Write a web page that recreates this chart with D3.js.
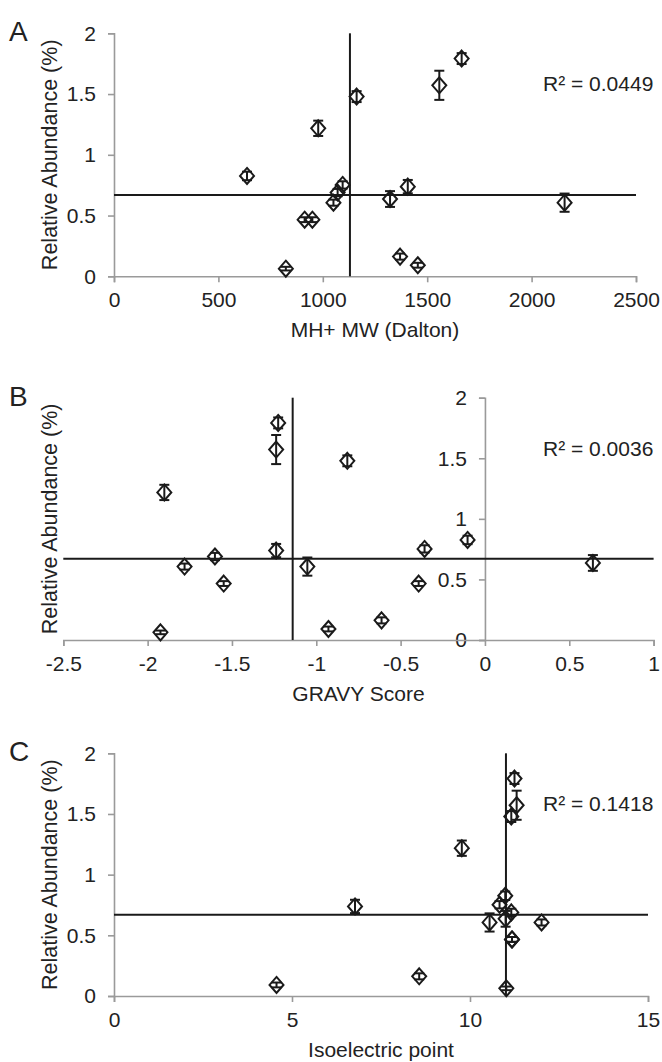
<!DOCTYPE html>
<html>
<head>
<meta charset="utf-8">
<script src="https://cdn.jsdelivr.net/npm/d3@7"></script>
<style>
  body { margin: 0; background: #fff; }
  svg { display: block; font-family: "Liberation Sans", Arial, sans-serif; }
</style>
</head>
<body>
<svg id="chart" width="662" height="1062"></svg>
<script>
// one entry per peptide, same order in every array
const abundance    = [0.826, 0.063, 0.466, 0.466, 1.218, 0.606, 0.689, 0.752, 1.479, 0.636, 0.162, 0.738, 0.091, 1.572, 1.792, 0.606];
const abundanceErr = [0.035, 0.015, 0.02, 0.02, 0.063, 0.025, 0.03, 0.03, 0.045, 0.065, 0.025, 0.055, 0.02, 0.12, 0.045, 0.075];
const mw    = [637, 823, 913, 950, 978, 1051, 1071, 1095, 1162, 1322, 1370, 1407, 1455, 1558, 1665, 2158];
const gravy = [-0.103, -1.924, -1.549, -0.393, -1.901, -1.781, -1.601, -0.358, -0.816, 0.640, -0.613, -1.238, -0.928, -1.238, -1.226, -1.053];
const pI    = [10.99, 11.02, 11.18, 11.18, 9.77, 12.01, 11.16, 10.83, 11.16, 11.0, 8.573, 6.77, 4.565, 11.31, 11.25, 10.55];

// median lines
const refAbundance = 0.67;
const refMw = 1130;
const refGravy = -1.14;
const refPI = 11.01;

const yTicks = [0, 0.5, 1, 1.5, 2];
const mwTicks = [0, 500, 1000, 1500, 2000, 2500];
const gravyTicks = [-2.5, -2, -1.5, -1, -0.5, 0, 0.5, 1];
const pITicks = [0, 5, 10, 15];
const r2Labels = ["R² = 0.0449", "R² = 0.0036", "R² = 0.1418"];

const panels = [
  { letter: "A", xs: mw, xTicks: mwTicks, xRef: refMw, xLabel: "MH+ MW (Dalton)", r2: r2Labels[0],
    xRange: [114, 636], yRange: [276.3, 33.3] },
  { letter: "B", xs: gravy, xTicks: gravyTicks, xRef: refGravy, xLabel: "GRAVY Score", r2: r2Labels[1],
    xRange: [63.3, 653.6], yRange: [640, 397.7] },
  { letter: "C", xs: pI, xTicks: pITicks, xRef: refPI, xLabel: "Isoelectric point", r2: r2Labels[2],
    xRange: [114, 648], yRange: [996, 753.3] }
];

const svg = d3.select("#chart");
const axisColor = "#9a9a9a";
const textColor = "#222";
const fs = 21;

panels.forEach((p) => {
  const x = d3.scaleLinear().domain(d3.extent(p.xTicks)).range(p.xRange);
  const y = d3.scaleLinear().domain([0, 2]).range(p.yRange);
  const g = svg.append("g");

  // y axis sits at x = 0
  const yAx = g.append("g")
    .attr("transform", `translate(${x(0)},0)`)
    .call(d3.axisLeft(y).tickValues(yTicks).tickSize(6).tickPadding(12).tickFormat(d3.format("")));
  const xAx = g.append("g")
    .attr("transform", `translate(0,${y(0)})`)
    .call(d3.axisBottom(x).tickValues(p.xTicks).tickSize(6).tickPadding(10).tickFormat((d) => String(d)));

  [yAx, xAx].forEach((a) => {
    a.select(".domain").attr("stroke", axisColor).attr("stroke-width", 1.6);
    a.selectAll(".tick line").attr("stroke", axisColor).attr("stroke-width", 1.6);
    a.selectAll(".tick text").attr("fill", textColor).style("font-size", fs + "px");
  });

  // median reference lines
  g.append("line")
    .attr("x1", x.range()[0]).attr("x2", x.range()[1])
    .attr("y1", y(refAbundance)).attr("y2", y(refAbundance))
    .attr("stroke", "#1a1a1a").attr("stroke-width", 2);
  g.append("line")
    .attr("x1", x(p.xRef)).attr("x2", x(p.xRef))
    .attr("y1", y(0)).attr("y2", y(2))
    .attr("stroke", "#1a1a1a").attr("stroke-width", 2);

  const pts = abundance.map((v, i) => ({ x: p.xs[i], y: v, e: abundanceErr[i] }));

  // error bars
  const eb = g.append("g").attr("stroke", "#1a1a1a").attr("stroke-width", 2);
  pts.forEach((d) => {
    const cx = x(d.x);
    eb.append("line").attr("x1", cx).attr("x2", cx).attr("y1", y(d.y - d.e)).attr("y2", y(d.y + d.e));
    eb.append("line").attr("x1", cx - 5).attr("x2", cx + 5).attr("y1", y(d.y - d.e)).attr("y2", y(d.y - d.e));
    eb.append("line").attr("x1", cx - 5).attr("x2", cx + 5).attr("y1", y(d.y + d.e)).attr("y2", y(d.y + d.e));
  });

  // open diamond markers
  g.selectAll("path.pt").data(pts).enter().append("path")
    .attr("class", "pt")
    .attr("d", (d) => {
      const cx = x(d.x), cy = y(d.y);
      return `M${cx},${cy - 8}L${cx + 7},${cy}L${cx},${cy + 8}L${cx - 7},${cy}Z`;
    })
    .attr("fill", "none")
    .attr("stroke", "#1a1a1a")
    .attr("stroke-width", 2);

  const yMid = (p.yRange[0] + p.yRange[1]) / 2;
  g.append("text")
    .attr("transform", `translate(57,${yMid}) rotate(-90)`)
    .attr("text-anchor", "middle")
    .attr("fill", textColor)
    .style("font-size", "21.5px")
    .text("Relative Abundance (%)");

  g.append("text")
    .attr("x", (p.xRange[0] + p.xRange[1]) / 2)
    .attr("y", p.yRange[0] + 61)
    .attr("text-anchor", "middle")
    .attr("fill", textColor)
    .style("font-size", fs + "px")
    .text(p.xLabel);

  g.append("text")
    .attr("x", 543)
    .attr("y", p.yRange[1] + 58)
    .attr("fill", textColor)
    .style("font-size", fs + "px")
    .text(p.r2);

  g.append("text")
    .attr("x", 9)
    .attr("y", p.yRange[1] + 8)
    .attr("fill", textColor)
    .style("font-size", "28px")
    .text(p.letter);
});
</script>
</body>
</html>
